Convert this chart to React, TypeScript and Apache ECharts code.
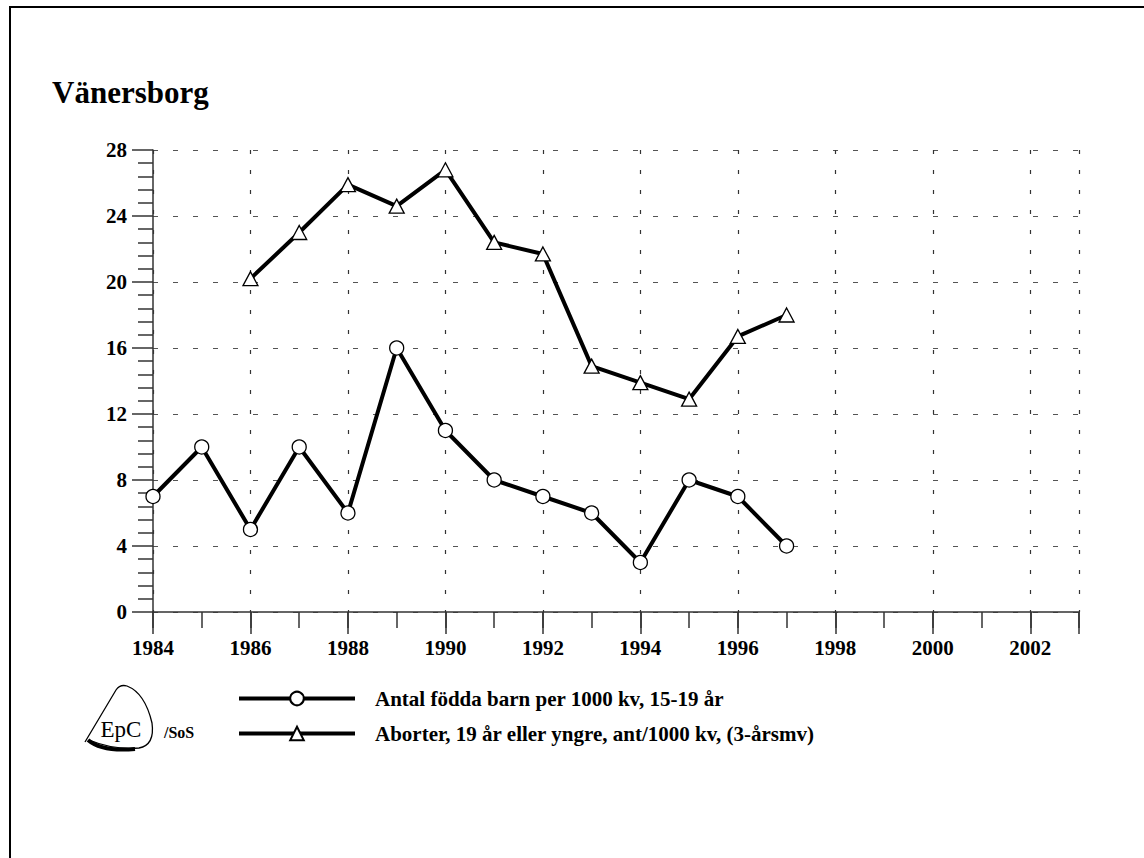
import React, { useEffect, useRef } from 'react';
import * as echarts from 'echarts';

// ---- data ----
const birthYears = [1984, 1985, 1986, 1987, 1988, 1989, 1990, 1991, 1992, 1993, 1994, 1995, 1996, 1997];
const births = [7, 10, 5, 10, 6, 16, 11, 8, 7, 6, 3, 8, 7, 4];
const abortionYears = [1986, 1987, 1988, 1989, 1990, 1991, 1992, 1993, 1994, 1995, 1996, 1997];
const abortions = [20.2, 23.0, 25.9, 24.6, 26.8, 22.4, 21.7, 14.9, 13.9, 12.9, 16.7, 18.0];
const birthsName = 'Antal födda barn per 1000 kv, 15-19 år';
const abortionsName = 'Aborter, 19 år eller yngre, ant/1000 kv, (3-årsmv)';
const titleText = 'Vänersborg';
const xMin = 1984;
const xMax = 2003;
const yMin = 0;
const yMax = 28;
const yInterval = 4;

const LOGO_PATH =
  'M 0 57 L 31 5 Q 35 -1 42 1 Q 60 8 67 38 Q 70 60 54 63 Q 28 65 4 55';
echarts.graphic.registerShape('epcLogo', echarts.graphic.extendPath(LOGO_PATH, {}));

const SERIF = '"Liberation Serif", "Times New Roman", serif';

export default function App() {
  const ref = useRef<HTMLDivElement>(null);

  useEffect(() => {
    document.body.style.margin = '0';
    if (!ref.current) return;
    const chart = echarts.init(ref.current, undefined, { renderer: 'svg' });

    const labelStyle = {
      fontFamily: SERIF,
      fontWeight: 'bold' as const,
      fontSize: 21,
      color: '#000',
    };

    const legendCommon = {
      orient: 'vertical' as const,
      left: 237,
      padding: 0,
      itemWidth: 116,
      itemHeight: 17,
      lineStyle: { width: 4, color: '#000' },
      textStyle: {
        fontFamily: SERIF,
        fontWeight: 'bold' as const,
        fontSize: 21,
        color: '#000',
        lineHeight: 20,
        padding: [0, 0, 0, 15],
      },
    };

    const option: any = {
      animation: false,
      backgroundColor: '#fff',
      title: {
        text: titleText,
        left: 52,
        top: 77,
        padding: 0,
        textStyle: { fontFamily: SERIF, fontWeight: 'bold', fontSize: 31, color: '#000' },
      },
      legend: [
        { ...legendCommon, top: 688, data: [birthsName] },
        { ...legendCommon, top: 723, data: [abortionsName] },
      ],
      grid: { left: 153, top: 150, width: 926, height: 462 },
      xAxis: [
        {
          type: 'value',
          position: 'bottom',
          min: xMin,
          max: xMax,
          interval: 1,
          axisLine: { show: true, lineStyle: { color: '#333', width: 1.5 } },
          axisTick: { show: true, length: 16, lineStyle: { color: '#333', width: 1.5 } },
          axisLabel: { show: false },
          splitLine: { show: false },
        },
        {
          type: 'value',
          position: 'bottom',
          min: xMin,
          max: xMax,
          interval: 2,
          axisLine: { show: false },
          axisTick: { show: true, length: 22, lineStyle: { color: '#333', width: 1.5 } },
          axisLabel: {
            ...labelStyle,
            margin: 25,
            formatter: (v: number) => (v % 2 === 0 ? String(v) : ''),
          },
          splitLine: {
            show: true,
            lineStyle: { color: '#333', width: 1.2, type: [4, 16] },
          },
        },
      ],
      yAxis: {
        type: 'value',
        min: yMin,
        max: yMax,
        interval: yInterval,
        axisLine: { show: true, lineStyle: { color: '#333', width: 1.5 } },
        axisTick: { show: true, length: 21, lineStyle: { color: '#333', width: 1.5 } },
        minorTick: { show: true, splitNumber: 5, length: 15, lineStyle: { color: '#333', width: 1.5 } },
        axisLabel: { ...labelStyle, margin: 26 },
        splitLine: {
          show: true,
          lineStyle: { color: '#555', width: 1.2, type: [5, 15] },
        },
      },
      series: [
        {
          name: birthsName,
          type: 'line',
          xAxisIndex: 0,
          data: birthYears.map((y, i) => [y, births[i]]),
          symbol: 'circle',
          symbolSize: 14,
          lineStyle: { color: '#000', width: 4 },
          itemStyle: { color: '#fff', borderColor: '#000', borderWidth: 1.3 },
          z: 3,
        },
        {
          name: abortionsName,
          type: 'line',
          xAxisIndex: 0,
          data: abortionYears.map((y, i) => [y, abortions[i]]),
          symbol: 'triangle',
          symbolSize: [15, 14],
          lineStyle: { color: '#000', width: 4 },
          itemStyle: { color: '#fff', borderColor: '#000', borderWidth: 1.3 },
          z: 3,
        },
      ],
      graphic: [
        { type: 'line', shape: { x1: 10, y1: 7, x2: 10, y2: 858 }, style: { stroke: '#000', lineWidth: 2 } },
        { type: 'line', shape: { x1: 9, y1: 7, x2: 1144, y2: 7 }, style: { stroke: '#000', lineWidth: 2 } },
        {
          type: 'epcLogo',
          x: 85,
          y: 685,
          style: { fill: 'none', stroke: '#000', lineWidth: 1.3 },
        },
        {
          type: 'bezierCurve',
          shape: { x1: 88, y1: 740, cpx1: 102, cpy1: 752, x2: 135, y2: 749 },
          style: { fill: 'none', stroke: '#000', lineWidth: 4 },
        },
        {
          type: 'text',
          x: 121,
          y: 729,
          style: {
            text: 'EpC',
            fontFamily: SERIF,
            fontSize: 23,
            fill: '#000',
            align: 'center',
            verticalAlign: 'middle',
          },
        },
        {
          type: 'text',
          x: 164,
          y: 732,
          style: {
            text: '/SoS',
            fontFamily: SERIF,
            fontWeight: 'bold',
            fontSize: 16,
            fill: '#000',
            align: 'left',
            verticalAlign: 'middle',
          },
        },
      ],
    };

    chart.setOption(option);
    return () => chart.dispose();
  }, []);

  return <div ref={ref} style={{ width: 1144, height: 858 }} />;
}
